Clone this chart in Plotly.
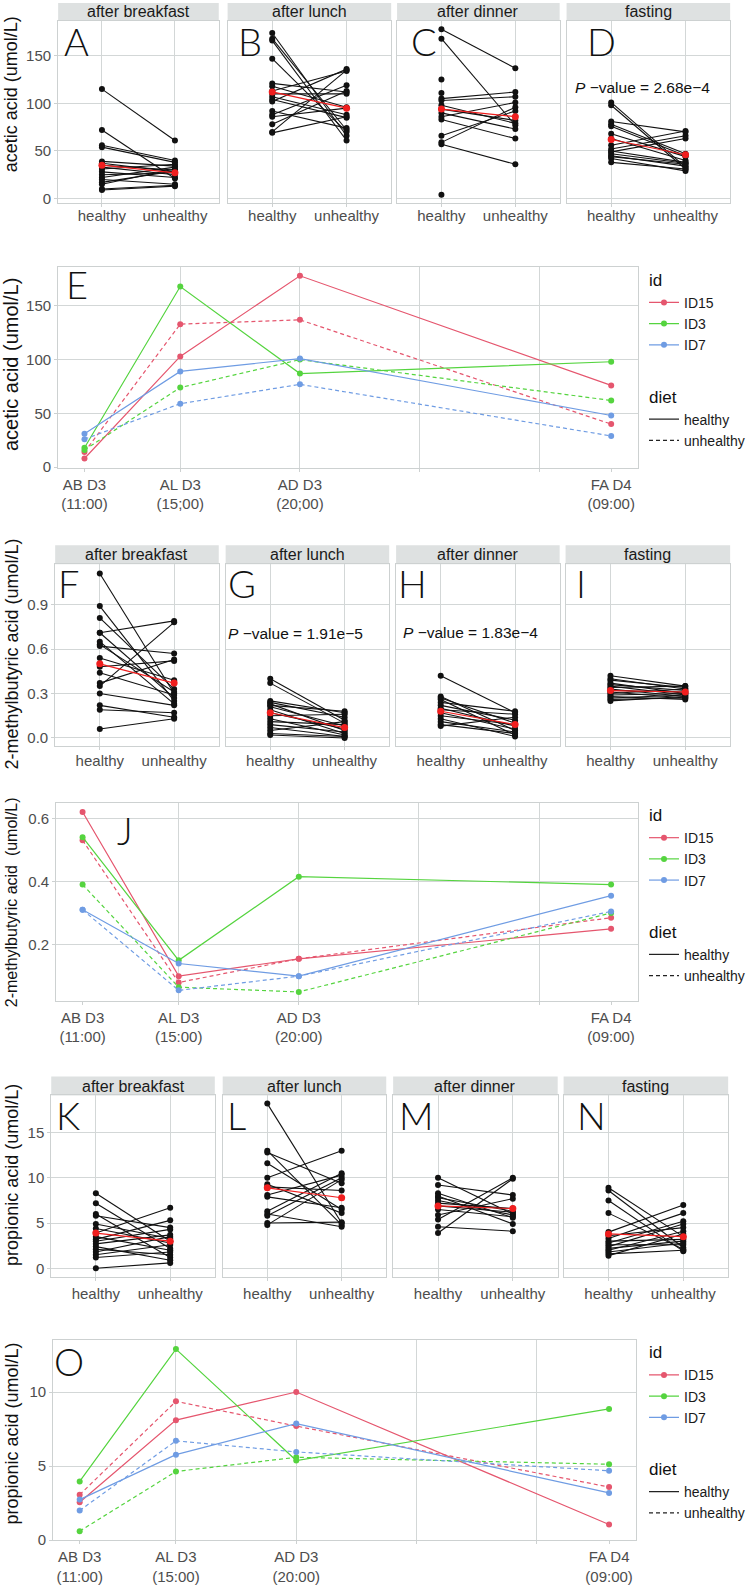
import plotly.graph_objects as go

W, H = 750, 1593
FONT = "Liberation Sans"

# ---------------- data ----------------
diet_levels = ["healthy", "unhealthy"]
diet_positions = [1, 2]
meal_labels = ["after breakfast", "after lunch", "after dinner", "fasting"]
id_names = ["ID15", "ID3", "ID7"]
time_hours = [11, 15, 20, 33]
time_labels_E = ["AB D3<br>(11:00)", "AL D3<br>(15;00)", "AD D3<br>(20;00)", "FA D4<br>(09:00)"]
time_labels = ["AB D3<br>(11:00)", "AL D3<br>(15:00)", "AD D3<br>(20:00)", "FA D4<br>(09:00)"]

# acetic acid, paired per subject
acetic_AB_healthy = [115, 72, 56, 54, 39, 37, 35, 33, 31, 28, 25, 22, 20, 17, 15, 10, 9]
acetic_AB_unhealthy = [61, 21, 40, 38, 34, 28, 30, 25, 36, 22, 27, 33, 15, 29, 31, 14, 13]
acetic_AL_healthy = [174, 168, 166, 147, 121, 118, 113, 110, 107, 104, 102, 92, 88, 86, 78, 70, 69]
acetic_AL_unhealthy = [66, 72, 61, 70, 112, 96, 134, 110, 88, 85, 136, 74, 119, 95, 113, 135, 86]
acetic_AD_healthy = [178, 168, 125, 111, 105, 103, 98, 94, 90, 86, 83, 66, 59, 57, 4]
acetic_AD_unhealthy = [137, 77, None, None, 112, 107, 79, 82, 73, 101, 63, 92, 96, 36, None]
acetic_FA_healthy = [101, 98, 81, 78, 76, 68, 63, 56, 52, 49, 47, 45, 42, 38, 50, 44]
acetic_FA_unhealthy = [33, 31, 70, 47, 45, 44, 40, 71, 66, 63, 37, 34, 29, 31, 38, 36]
acetic_mean_healthy = [35, 112, 94, 62]
acetic_mean_unhealthy = [27, 95, 86, 46]

# 2-methylbutyric acid
mba_AB_healthy = [1.11, 0.89, 0.81, 0.71, 0.71, 0.65, 0.63, 0.62, 0.54, 0.48, 0.44, 0.37, 0.35, 0.30, 0.22, 0.19, 0.06]
mba_AB_unhealthy = [0.30, 0.25, 0.33, 0.79, 0.27, 0.23, 0.31, 0.57, 0.39, 0.52, 0.29, 0.53, 0.78, 0.22, 0.14, 0.17, 0.13]
mba_AL_healthy = [0.40, 0.37, 0.25, 0.24, 0.23, 0.22, 0.21, 0.19, 0.17, 0.15, 0.13, 0.11, 0.09, 0.07, 0.05, 0.03, 0.02]
mba_AL_unhealthy = [0.12, 0.10, 0.17, 0.14, 0.05, 0.18, 0.08, 0.03, 0.06, 0.16, 0.02, 0.09, 0.04, 0.01, 0.11, 0.01, 0.00]
mba_AD_healthy = [0.42, 0.28, 0.27, 0.26, 0.24, 0.22, 0.20, 0.19, 0.17, 0.15, 0.13, 0.11, 0.09, 0.08]
mba_AD_unhealthy = [0.17, 0.05, 0.10, 0.02, 0.18, 0.12, 0.08, 0.16, 0.06, 0.09, 0.01, 0.04, 0.03, 0.14]
mba_FA_healthy = [0.42, 0.40, 0.39, 0.37, 0.36, 0.35, 0.34, 0.33, 0.32, 0.31, 0.30, 0.29, 0.28, 0.27, 0.26, 0.25]
mba_FA_unhealthy = [0.35, 0.33, 0.34, 0.30, 0.32, 0.29, 0.35, 0.28, 0.31, 0.27, 0.33, 0.30, 0.26, 0.29, 0.27, 0.28]
mba_mean_healthy = [0.50, 0.17, 0.18, 0.32]
mba_mean_unhealthy = [0.37, 0.07, 0.09, 0.31]

# propionic acid
prop_AB_healthy = [8.3, 7.2, 6.0, 5.8, 4.9, 4.4, 3.9, 3.5, 3.2, 3.0, 2.7, 2.4, 2.1, 1.8, 1.5, 1.2, 0.0]
prop_AB_unhealthy = [3.0, 2.2, 1.2, 4.5, 3.3, 2.8, 6.7, 2.0, 5.3, 4.3, 3.7, 0.9, 1.5, 3.5, 2.6, 1.8, 0.6]
prop_AL_healthy = [18.2, 13.0, 12.8, 11.6, 10.0, 9.3, 9.0, 8.1, 7.9, 6.3, 6.0, 5.8, 5.0, 4.8]
prop_AL_unhealthy = [5.0, 4.8, 9.4, 6.5, 13.0, 6.1, 8.6, 10.3, 6.7, 10.5, 4.6, 10.0, 5.1, 9.8]
prop_AD_healthy = [10.0, 9.2, 8.3, 8.0, 7.8, 7.5, 7.2, 6.9, 6.5, 5.9, 5.4, 4.6, 3.9]
prop_AD_unhealthy = [6.0, 8.1, 5.6, 4.9, 6.3, 5.9, 6.6, 6.2, 5.7, 7.7, 10.0, 4.1, 9.9]
prop_FA_healthy = [8.9, 8.6, 7.5, 6.1, 4.0, 3.6, 3.3, 3.0, 2.8, 2.6, 2.4, 2.2, 2.0, 1.8, 1.6, 1.4]
prop_FA_unhealthy = [3.5, 2.3, 1.9, 2.1, 7.0, 4.5, 6.1, 3.2, 5.2, 2.6, 4.9, 3.0, 4.1, 2.8, 2.0, 3.8]
prop_mean_healthy = [3.9, 8.9, 6.9, 3.8]
prop_mean_unhealthy = [3.0, 7.8, 6.6, 3.5]

# time courses of three subjects
acetic_ID15_healthy = [8, 103, 178, 76]
acetic_ID15_unhealthy = [14, 133, 137, 40]
acetic_ID3_healthy = [18, 168, 87, 98]
acetic_ID3_unhealthy = [16, 74, 100, 62]
acetic_ID7_healthy = [31, 89, 101, 48]
acetic_ID7_unhealthy = [26, 59, 77, 29]

mba_ID15_healthy = [0.62, 0.10, 0.155, 0.25]
mba_ID15_unhealthy = [0.53, 0.08, 0.155, 0.285]
mba_ID3_healthy = [0.54, 0.15, 0.415, 0.39]
mba_ID3_unhealthy = [0.39, 0.065, 0.05, 0.30]
mba_ID7_healthy = [0.31, 0.14, 0.10, 0.355]
mba_ID7_unhealthy = [0.31, 0.055, 0.10, 0.305]

prop_ID15_healthy = [2.55, 8.1, 10.0, 1.05]
prop_ID15_unhealthy = [3.06, 9.37, 7.7, 3.58]
prop_ID3_healthy = [3.96, 12.9, 5.37, 8.86]
prop_ID3_unhealthy = [0.6, 4.63, 5.59, 5.12]
prop_ID7_healthy = [2.73, 5.77, 7.87, 3.18]
prop_ID7_unhealthy = [1.99, 6.7, 5.95, 4.68]

pvalue_texts = ["2.68e\u22124", "1.91e\u22125", "1.83e\u22124"]

# ---------------- styling ----------------
ID_COLORS = {"ID15": "#E5566E", "ID3": "#55D43F", "ID7": "#6F9CE3"}
GRID = "#d3d7d7"
BORDER = "#cdd1d1"
STRIP = "#dee1e1"
DASH = "4px,3px"
TICKFONT = dict(family=FONT, size=15, color="#4d4d4d")


def px(x):
    return x / W


def py(y):
    return 1 - y / H


fig = go.Figure()
axes = {}
annotations = []
shapes = []
counter = [0]


def new_axes(xdom, ydom, xcfg, ycfg):
    counter[0] += 1
    k = counter[0]
    sfx = "" if k == 1 else str(k)
    base = dict(showline=True, mirror=True, linecolor=BORDER, linewidth=1,
                gridcolor=GRID, gridwidth=1, zeroline=False, ticks="outside",
                ticklen=3, tickcolor=BORDER, tickfont=TICKFONT, fixedrange=True)
    xa = dict(base, domain=[px(xdom[0]), px(xdom[1])], anchor="y" + sfx)
    xa.update(xcfg)
    ya = dict(base, domain=[py(ydom[1]), py(ydom[0])], anchor="x" + sfx)
    ya.update(ycfg)
    axes["xaxis" + sfx] = xa
    axes["yaxis" + sfx] = ya
    return "x" + sfx, "y" + sfx


def letter(text, cx, cy, size=38):
    annotations.append(dict(text=text, x=px(cx), y=py(cy), xref="paper", yref="paper",
                            xanchor="center", yanchor="middle", showarrow=False,
                            font=dict(family="Lato", size=size, color="#111", weight=300)))


def ytitle(text, cx, cy, size=18):
    annotations.append(dict(text=text, x=px(cx), y=py(cy), xref="paper", yref="paper",
                            xanchor="center", yanchor="middle", showarrow=False, textangle=-90,
                            font=dict(family=FONT, size=size, color="#111")))


def pval(text, cx, cy):
    annotations.append(dict(text="<i>P</i> \u2212value = " + text, x=px(cx), y=py(cy),
                            xref="paper", yref="paper", xanchor="center", yanchor="middle",
                            showarrow=False, font=dict(family=FONT, size=15.5, color="#111")))


def facet_row(strip_top, strip_bot, plot_bot, xdoms, yrange, ytickvals, yticktext,
              healthy_lists, unhealthy_lists, mean_h, mean_u, standoff=0):
    for j in range(4):
        x0, x1 = xdoms[j]
        ycfg = dict(range=yrange, tickvals=ytickvals, ticktext=yticktext,
                    showticklabels=(j == 0))
        if j > 0:
            ycfg["ticks"] = ""
        xr, yr = new_axes((x0, x1), (strip_bot, plot_bot),
                          dict(range=[0.4, 2.6], tickvals=diet_positions, ticktext=diet_levels,
                               ticklabelstandoff=standoff),
                          ycfg)
        shapes.append(dict(type="rect", xref="paper", yref="paper", x0=px(x0), x1=px(x1),
                           y0=py(strip_bot), y1=py(strip_top), fillcolor=STRIP, line=dict(width=0),
                           layer="below"))
        annotations.append(dict(text=meal_labels[j], x=px((x0 + x1) / 2), y=py((strip_top + strip_bot) / 2),
                                xref="paper", yref="paper", xanchor="center", yanchor="middle",
                                showarrow=False, font=dict(family=FONT, size=16, color="#1a1a1a")))
        hs, us = healthy_lists[j], unhealthy_lists[j]
        xs, ys = [], []
        for h, u in zip(hs, us):
            xs += [diet_positions[0], diet_positions[1], None]
            ys += [h, u, None]
        fig.add_trace(go.Scatter(x=xs, y=ys, xaxis=xr, yaxis=yr, mode="lines+markers",
                                 line=dict(color="#111", width=1.1), marker=dict(color="#111", size=6),
                                 showlegend=False, hoverinfo="skip", connectgaps=False))
        fig.add_trace(go.Scatter(x=diet_positions, y=[mean_h[j], mean_u[j]], xaxis=xr, yaxis=yr,
                                 mode="lines+markers", line=dict(color="#f01e1e", width=1.2),
                                 marker=dict(color="#f01e1e", size=7), showlegend=False,
                                 hoverinfo="skip"))


def time_panel(xdom, ydom, yrange, ytickvals, yticktext, labels, series, legend_name, legend_top):
    xr, yr = new_axes(xdom, ydom,
                      dict(range=[9.9, 34.1], tickvals=time_hours, ticktext=labels, showgrid=False,
                           minor=dict(tickvals=[15, 20, 25, 30], showgrid=True, gridcolor=GRID,
                                      gridwidth=1, ticks="outside", ticklen=3, tickcolor=BORDER)),
                      dict(range=yrange, tickvals=ytickvals, ticktext=yticktext))
    for idn in id_names:
        for d, dash in zip(diet_levels, ["solid", DASH]):
            fig.add_trace(go.Scatter(x=time_hours, y=series[(idn, d)], xaxis=xr, yaxis=yr,
                                     mode="lines+markers",
                                     line=dict(color=ID_COLORS[idn], width=1.2, dash=dash),
                                     marker=dict(color=ID_COLORS[idn], size=6),
                                     showlegend=False, hoverinfo="skip"))
    for idn in id_names:
        fig.add_trace(go.Scatter(x=[None], y=[None], xaxis=xr, yaxis=yr, mode="lines+markers",
                                 name=idn, line=dict(color=ID_COLORS[idn], width=1.2),
                                 marker=dict(color=ID_COLORS[idn], size=6),
                                 legend=legend_name, legendgroup="id", legendgrouptitle_text="id"))
    for d, dash in zip(diet_levels, ["solid", DASH]):
        fig.add_trace(go.Scatter(x=[None], y=[None], xaxis=xr, yaxis=yr, mode="lines",
                                 name=d, line=dict(color="#222", width=1.2, dash=dash),
                                 legend=legend_name, legendgroup="diet", legendgrouptitle_text="diet"))
    axes[legend_name] = dict(x=px(654), y=py(legend_top), xanchor="left", yanchor="top",
                             font=dict(family=FONT, size=14, color="#1a1a1a"),
                             grouptitlefont=dict(family=FONT, size=17, color="#111"),
                             tracegroupgap=28, bgcolor="rgba(0,0,0,0)", traceorder="grouped",
                             itemwidth=30)


# ---------------- row 1: acetic facets ----------------
facet_row(3, 21, 204, [(59, 222), (231, 397), (403, 568), (575, 741)],
          [-4.7, 186.7], [0, 50, 100, 150], ["0", "50", "100", "150"],
          [acetic_AB_healthy, acetic_AL_healthy, acetic_AD_healthy, acetic_FA_healthy],
          [acetic_AB_unhealthy, acetic_AL_unhealthy, acetic_AD_unhealthy, acetic_FA_unhealthy],
          acetic_mean_healthy, acetic_mean_unhealthy, standoff=-4)
ytitle("acetic acid (umol/L)", 11, 95, 18)
for t, cx in zip("ABCD", [78, 254, 430, 610]):
    letter(t, cx, 41)
pval(pvalue_texts[0], 652, 88)

# ---------------- row 2: acetic time course ----------------
acetic_series = {("ID15", "healthy"): acetic_ID15_healthy, ("ID15", "unhealthy"): acetic_ID15_unhealthy,
                 ("ID3", "healthy"): acetic_ID3_healthy, ("ID3", "unhealthy"): acetic_ID3_unhealthy,
                 ("ID7", "healthy"): acetic_ID7_healthy, ("ID7", "unhealthy"): acetic_ID7_unhealthy}
time_panel((59, 647), (268, 470), [-0.5, 186.5], [0, 50, 100, 150], ["0", "50", "100", "150"],
           time_labels_E, acetic_series, "legend", 263)
ytitle("acetic acid (umol/L)", 11, 366, 20)
letter("E", 78, 285)

# ---------------- row 3: 2-methylbutyric facets ----------------
facet_row(548, 567, 750, [(56, 222), (229, 395), (402, 568), (574, 741)],
          [-0.056, 1.173], [0, 0.3, 0.6, 0.9], ["0.0", "0.3", "0.6", "0.9"],
          [mba_AB_healthy, mba_AL_healthy, mba_AD_healthy, mba_FA_healthy],
          [mba_AB_unhealthy, mba_AL_unhealthy, mba_AD_unhealthy, mba_FA_unhealthy],
          mba_mean_healthy, mba_mean_unhealthy, standoff=-2)
ytitle("2-methylbutyric acid (umol/L)", 12, 657, 18)
for t, cx in zip("FGHI", [70, 246, 419, 590]):
    letter(t, cx, 586)
pval(pvalue_texts[1], 300, 637)
pval(pvalue_texts[2], 477, 636)

# ---------------- row 4: 2-methylbutyric time course ----------------
mba_series = {("ID15", "healthy"): mba_ID15_healthy, ("ID15", "unhealthy"): mba_ID15_unhealthy,
              ("ID3", "healthy"): mba_ID3_healthy, ("ID3", "unhealthy"): mba_ID3_unhealthy,
              ("ID7", "healthy"): mba_ID7_healthy, ("ID7", "unhealthy"): mba_ID7_unhealthy}
time_panel((57, 647), (807, 1006), [0.0215, 0.6485], [0.2, 0.4, 0.6], ["0.2", "0.4", "0.6"],
           time_labels, mba_series, "legend2", 801)
ytitle("2-methylbutyric acid\u00a0 (umol/L)", 12, 907, 16)
letter("J", 127, 834)

# ---------------- row 5: propionic facets ----------------
facet_row(1082, 1101, 1283, [(52, 218), (226, 392), (399, 566), (572, 739)],
          [-0.91, 19.1], [0, 5, 10, 15], ["0", "5", "10", "15"],
          [prop_AB_healthy, prop_AL_healthy, prop_AD_healthy, prop_FA_healthy],
          [prop_AB_unhealthy, prop_AL_unhealthy, prop_AD_unhealthy, prop_FA_unhealthy],
          prop_mean_healthy, prop_mean_unhealthy)
ytitle("propionic acid (umol/L)", 12, 1181, 18)
for t, cx in zip("KLMN", [69, 240, 423, 600]):
    letter(t, cx, 1121)

# ---------------- row 6: propionic time course ----------------
prop_series = {("ID15", "healthy"): prop_ID15_healthy, ("ID15", "unhealthy"): prop_ID15_unhealthy,
               ("ID3", "healthy"): prop_ID3_healthy, ("ID3", "unhealthy"): prop_ID3_unhealthy,
               ("ID7", "healthy"): prop_ID7_healthy, ("ID7", "unhealthy"): prop_ID7_unhealthy}
time_panel((54, 645), (1347, 1548), [-0.015, 13.5], [0, 5, 10], ["0", "5", "10"],
           time_labels, prop_series, "legend3", 1341)
ytitle("propionic acid (umol/L)", 12, 1441, 18)
letter("O", 70, 1368)

fig.update_layout(width=W, height=H, autosize=False, margin=dict(l=0, r=0, t=0, b=0),
                  paper_bgcolor="white", plot_bgcolor="white",
                  font=dict(family=FONT, color="#111"),
                  annotations=annotations, shapes=shapes, **axes)

fig.write_html("out.html", config={"displayModeBar": False},
               post_script="document.body.style.margin='0';document.body.style.overflow='hidden';")
